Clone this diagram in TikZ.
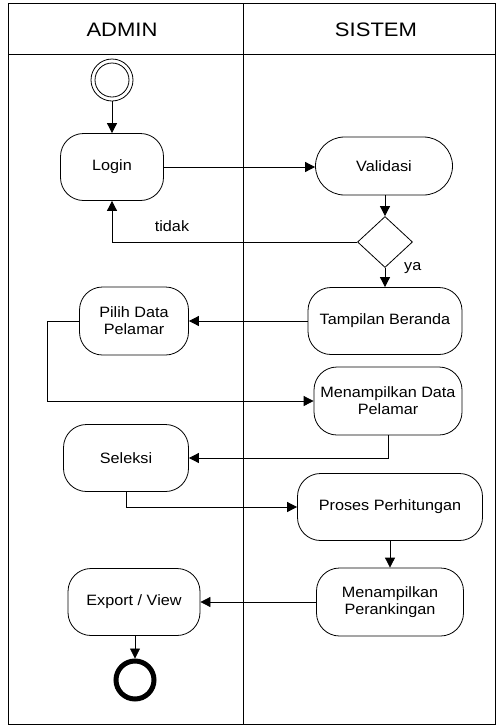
\documentclass[tikz,border=0pt]{standalone}
\usepackage{fontspec}
\setmainfont[FakeStretch=1.08]{Liberation Sans}
\newfontfamily\hdrfont[FakeStretch=1.13]{Liberation Sans}
\usetikzlibrary{arrows.meta,shapes.geometric}
\tikzset{
  act/.style={draw,line width=0.8pt,rounded corners=23pt,align=center,inner sep=0pt,
    font=\fontsize{15}{17}\selectfont},
  flow/.style={draw,line width=0.8pt,-{Triangle[length=10pt,width=10pt]}},
  lane/.style={draw,line width=0.8pt},
  hdr/.style={font=\hdrfont\fontsize{19.5}{22}\selectfont},
  lbl/.style={font=\fontsize{15}{17}\selectfont,inner sep=0pt},
  decide/.style={draw,diamond,line width=0.8pt,minimum width=55pt,minimum height=51pt,inner sep=0pt,aspect=1.08},
}
\begin{document}
\begin{tikzpicture}[x=1pt,y=-1pt]
\useasboundingbox (0,0) rectangle (496,726);
% swimlanes
\draw[lane] (8,3) rectangle (495,724);
\draw[lane] (8,54) -- (495,54);
\draw[lane] (243,3) -- (243,724);
\node[hdr] (hadmin) at (122,30) {ADMIN};
\node[hdr] (hsistem) at (376,30) {SISTEM};
% start / end
\node[draw,circle,line width=0.8pt,minimum size=42pt,inner sep=0pt] (start) at (112,80) {};
\node[draw,circle,line width=0.8pt,minimum size=34pt,inner sep=0pt] (startin) at (112,80) {};
\node[draw,circle,line width=5pt,minimum size=38pt,inner sep=0pt] (end) at (135,680) {};
% activities
\node[act,minimum width=103pt,minimum height=67pt] (login) at (112,167) {Login};
\node[act,rounded corners=29pt,minimum width=137pt,minimum height=58pt] (validasi) at (384,166) {Validasi};
\node[decide] (dec) at (385,242) {};
\node[act,minimum width=154pt,minimum height=67pt] (tampil) at (385,321) {Tampilan Beranda};
\node[act,minimum width=109pt,minimum height=68pt] (pilih) at (134,321) {Pilih Data\\Pelamar};
\node[act,minimum width=148pt,minimum height=68pt] (mdata) at (388,401) {Menampilkan Data\\Pelamar};
\node[act,minimum width=125pt,minimum height=67pt] (seleksi) at (126,458) {Seleksi};
\node[act,minimum width=185pt,minimum height=67pt] (proses) at (390,507) {Proses Perhitungan};
\node[act,minimum width=147pt,minimum height=68pt] (mrank) at (390,602) {Menampilkan\\Perankingan};
\node[act,minimum width=132pt,minimum height=67pt] (export) at (134,602) {Export / View};
% labels
\node[lbl] (ltidak) at (172,226) {tidak};
\node[lbl,anchor=west] (lya) at (404,268) {ya};
% connectors
\draw[flow] (start) -- (login);
\draw[flow] (login) -- (validasi.west |- login);
\draw[flow] (validasi.south -| dec) -- (dec.north);
\draw[flow] (dec.west) -| (login.south);
\draw[flow] (dec.south) -- (tampil.north -| dec);
\draw[flow] (tampil.west) -- (pilih.east |- tampil.west);
\coordinate (pbend) at (47,322);
\draw[flow] (pilih.west) -- (pilih.west -| pbend) |- (mdata.west);
\draw[flow] (mdata.south) |- (seleksi.east);
\draw[flow] (seleksi.south) |- (proses.west);
\draw[flow] (proses.south) -- (mrank.north);
\draw[flow] (mrank.west) -- (export.east);
\draw[flow] (export.south -| end) -- (end.north);
\end{tikzpicture}
\end{document}
